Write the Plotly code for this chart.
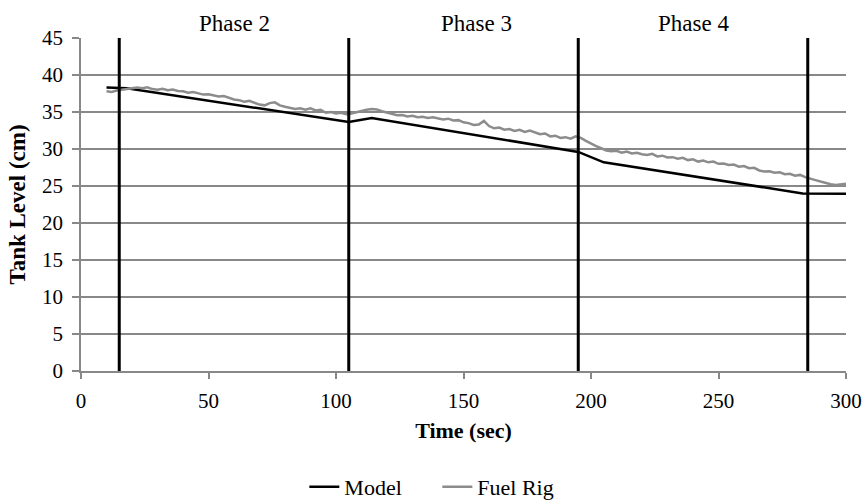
import plotly.graph_objects as go

# ---- data ----
model_t = [10, 18, 105, 114, 195, 205, 283, 300]
model_level = [38.3, 38.2, 33.65, 34.2, 29.6, 28.2, 24.0, 23.95]

rig_t = list(range(10, 301, 2))
rig_level = [
    37.8, 37.7, 37.9, 38.0, 38.1, 38.2,                          # 10-20
    38.3, 38.2, 38.35, 38.1, 38.0, 38.15, 37.95, 38.05, 37.85, 37.8,  # 22-40
    37.6, 37.7, 37.5, 37.35, 37.4, 37.2, 37.1, 37.15, 36.9, 36.7,     # 42-60
    36.6, 36.4, 36.5, 36.2, 36.0, 35.9, 36.2, 36.3, 35.9, 35.7,       # 62-80
    35.6, 35.4, 35.5, 35.3, 35.5, 35.2, 35.3, 34.9, 35.0, 34.8, 34.9, 34.7,  # 82-104
    34.8, 35.0, 35.1, 35.3, 35.4, 35.35, 35.1, 34.9,                  # 106-120
    34.7, 34.55, 34.6, 34.4, 34.5, 34.3, 34.35, 34.2, 34.3, 34.1,     # 122-140
    34.0, 34.1, 33.85, 33.9, 33.6, 33.5, 33.25, 33.3, 33.8, 33.1,     # 142-160
    32.8, 32.9, 32.6, 32.7, 32.45, 32.6, 32.3, 32.5, 32.2, 32.0,      # 162-180
    32.1, 31.7, 31.8, 31.5, 31.6, 31.4, 31.7, 31.5,                   # 182-196
    31.1, 30.7, 30.4, 30.1, 29.8, 29.7, 29.75,                        # 198-210
    29.5, 29.65, 29.4, 29.5, 29.3, 29.2, 29.35, 29.0, 29.1, 28.85,    # 212-230
    28.9, 28.7, 28.8, 28.5, 28.6, 28.3, 28.45, 28.2, 28.3, 28.0,      # 232-250
    28.05, 27.85, 27.9, 27.6, 27.7, 27.4, 27.45, 27.1, 26.95, 27.0,   # 252-270
    26.8, 26.85, 26.6, 26.65, 26.4, 26.5, 26.2, 26.05, 25.8, 25.6,    # 272-290
    25.4, 25.25, 25.15, 25.2, 25.3,                                   # 292-300
]

phase_bounds = [15, 105, 195, 285]
phase_names = ["Phase 2", "Phase 3", "Phase 4"]
phase_label_t = [60, 155, 240]

x_ticks = [0, 50, 100, 150, 200, 250, 300]
y_ticks = [0, 5, 10, 15, 20, 25, 30, 35, 40, 45]

FONT = "Liberation Serif"
GRID = "#888888"

fig = go.Figure()
fig.add_trace(go.Scatter(x=model_t, y=model_level, mode="lines", name="Model",
                         line=dict(color="#000000", width=2.5)))
fig.add_trace(go.Scatter(x=rig_t, y=rig_level, mode="lines", name="Fuel Rig",
                         line=dict(color="#8c8c8c", width=2.5)))

for b in phase_bounds:
    fig.add_shape(type="line", xref="x", yref="y", x0=b, x1=b, y0=0, y1=45,
                  line=dict(color="#000000", width=3))

for name, t in zip(phase_names, phase_label_t):
    fig.add_annotation(x=t, y=1, xref="x", yref="paper", text=name, showarrow=False,
                       yanchor="bottom", yshift=0, font=dict(family=FONT, size=23, color="#000"))

fig.update_layout(
    width=866, height=503,
    margin=dict(l=81, r=20, t=38, b=132, autoexpand=False),
    paper_bgcolor="white", plot_bgcolor="white",
    font=dict(family=FONT, size=21, color="#000"),
    showlegend=True,
    legend=dict(orientation="h", x=0.505, xanchor="center", xref="container",
                y=-0.285, yanchor="top", font=dict(family=FONT, size=22),
                entrywidth=88, entrywidthmode="pixels", traceorder="normal"),
    xaxis=dict(range=[0, 300], tickvals=x_ticks, showgrid=False, zeroline=False,
               showline=True, linecolor=GRID, linewidth=1.5, automargin=False,
               ticks="outside", ticklen=6, tickcolor=GRID, tickwidth=1.5,
               ticklabelstandoff=4,
               title=dict(text="<b>Time (sec)</b>", font=dict(family=FONT, size=22), standoff=11),
               tickfont=dict(family=FONT, size=21)),
    yaxis=dict(range=[0, 45], tickvals=y_ticks, showgrid=True, gridcolor=GRID, gridwidth=1.5,
               zeroline=False, showline=True, linecolor=GRID, linewidth=1.5, automargin=False,
               ticks="outside", ticklen=7, tickcolor=GRID, tickwidth=1.5,
               ticklabelstandoff=5,
               title=dict(text="<b>Tank Level (cm)</b>", font=dict(family=FONT, size=23), standoff=10),
               tickfont=dict(family=FONT, size=21)),
)

fig.write_html("out.html")
